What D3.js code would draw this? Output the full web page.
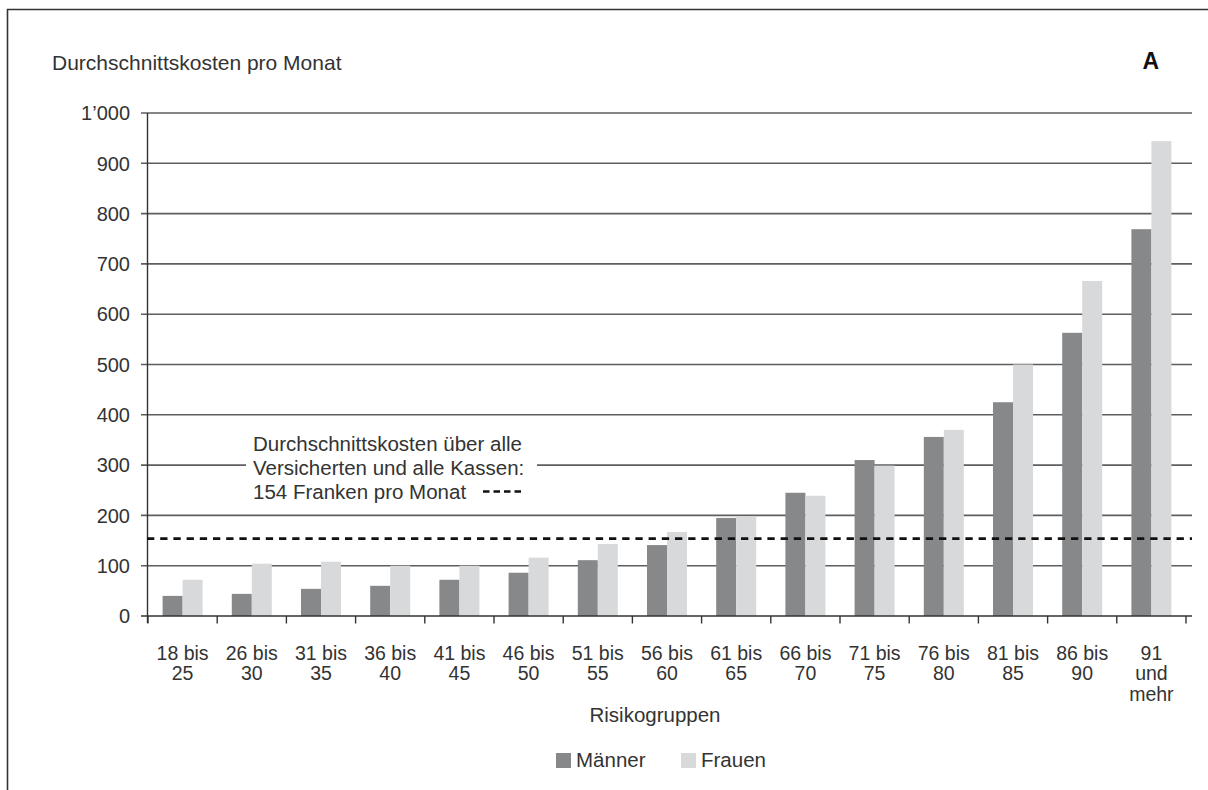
<!DOCTYPE html>
<html>
<head>
<meta charset="utf-8">
<script src="https://cdn.jsdelivr.net/npm/d3@7"></script>
<style>
  html, body { margin: 0; padding: 0; background: #fff; }
  svg { display: block; }
  text { font-family: "Liberation Sans", Arial, sans-serif; fill: #333; }
</style>
</head>
<body>
<svg id="chart" width="1208" height="790"></svg>
<script>
// Age groups (each label split into its printed lines)
const categories = [
  "18 bis|25", "26 bis|30", "31 bis|35", "36 bis|40", "41 bis|45",
  "46 bis|50", "51 bis|55", "56 bis|60", "61 bis|65", "66 bis|70",
  "71 bis|75", "76 bis|80", "81 bis|85", "86 bis|90", "91|und|mehr"
];
const series = ["Männer", "Frauen"];
// Average monthly cost in francs
const maenner = [40, 44, 54, 60, 72, 86, 111, 141, 195, 245, 310, 356, 425, 563, 769];
const frauen  = [72, 104, 108, 100, 100, 116, 143, 167, 197, 239, 299, 370, 500, 666, 944];
const yTicks = [0, 100, 200, 300, 400, 500, 600, 700, 800, 900, 1000];
const yTickLabels = ["0", "100", "200", "300", "400", "500", "600", "700", "800", "900", "1’000"];
const average = 154;
const noteLines = ["Durchschnittskosten über alle", "Versicherten und alle Kassen:", "154 Franken pro Monat"];

const colors = { "Männer": "#87888a", "Frauen": "#d8d9db" };
const svg = d3.select("#chart");

// Outer frame (top and left edges)
svg.append("path")
  .attr("d", "M7.5,790 L7.5,9.5 L1208,9.5")
  .attr("fill", "none").attr("stroke", "#333").attr("stroke-width", 1.6);

const x0 = d3.scaleBand().domain(categories).range([148, 1186]).padding(0);
const x1 = d3.scaleBand().domain(series).range([0, x0.bandwidth()]).paddingOuter(0.73);
const y = d3.scaleLinear().domain([0, 1000]).range([616, 113]);

// Title and panel letter
svg.append("text").attr("x", 52).attr("y", 69.5)
  .style("font-size", "21px").text("Durchschnittskosten pro Monat");
svg.append("text").attr("x", 1159).attr("y", 68.5).attr("text-anchor", "end")
  .style("font-size", "23px").style("font-weight", "bold").style("fill", "#111").text("A");

// Horizontal gridlines with ticks
svg.append("g").selectAll("line").data(yTicks.filter(d => d > 0)).join("line")
  .attr("x1", 141).attr("x2", 1192)
  .attr("y1", d => y(d)).attr("y2", d => y(d))
  .attr("stroke", "#5e5e5e").attr("stroke-width", 1.6);

// Y tick labels
svg.append("g").selectAll("text").data(yTicks).join("text")
  .attr("x", 130).attr("y", d => y(d)).attr("dy", "0.36em")
  .attr("text-anchor", "end").style("font-size", "20px")
  .text((d, i) => yTickLabels[i]);

// Note about the overall average, on a white box that breaks the gridline
const note = svg.append("g");
note.append("rect").attr("x", 246).attr("y", 432).attr("width", 291).attr("height", 74).attr("fill", "#fff");
note.selectAll("text").data(noteLines).join("text")
  .attr("x", 253).attr("y", (d, i) => 451 + i * 24)
  .style("font-size", "20.5px").text(d => d);
note.append("line").attr("x1", 483).attr("x2", 521).attr("y1", 491.5).attr("y2", 491.5)
  .attr("stroke", "#111").attr("stroke-width", 2.6).attr("stroke-dasharray", "6.5,4");

// Bars
const groups = svg.append("g").selectAll("g").data(categories).join("g")
  .attr("transform", d => `translate(${x0(d)},0)`);
groups.selectAll("rect")
  .data((d, i) => [{ s: "Männer", v: maenner[i] }, { s: "Frauen", v: frauen[i] }])
  .join("rect")
  .attr("x", d => x1(d.s)).attr("width", x1.bandwidth())
  .attr("y", d => y(d.v)).attr("height", d => y(0) - y(d.v))
  .attr("fill", d => colors[d.s]);

// Axes lines
svg.append("line").attr("x1", 141).attr("x2", 1192).attr("y1", y(0)).attr("y2", y(0))
  .attr("stroke", "#333").attr("stroke-width", 1.6);
svg.append("line").attr("x1", 147.5).attr("x2", 147.5).attr("y1", y(1000)).attr("y2", 623)
  .attr("stroke", "#333").attr("stroke-width", 1.4);
const bounds = categories.map(c => x0(c)).concat([x0.range()[1]]);
svg.append("g").selectAll("line").data(bounds).join("line")
  .attr("x1", d => d).attr("x2", d => d).attr("y1", y(0)).attr("y2", 623.5)
  .attr("stroke", "#333").attr("stroke-width", 1.4);

// Average line
svg.append("line").attr("x1", 147).attr("x2", 1192)
  .attr("y1", y(average)).attr("y2", y(average))
  .attr("stroke", "#111").attr("stroke-width", 2.7).attr("stroke-dasharray", "7.3,5.9");

// Category labels
const catLabels = svg.append("g").selectAll("text").data(categories).join("text")
  .attr("x", d => x0(d) + x0.bandwidth() / 2).attr("y", 659.5)
  .attr("text-anchor", "middle").style("font-size", "19.5px");
catLabels.selectAll("tspan").data(d => d.split("|")).join("tspan")
  .attr("x", function () { return d3.select(this.parentNode).attr("x"); })
  .attr("dy", (d, i) => i === 0 ? 0 : 20.7)
  .text(d => d);

// Axis title
svg.append("text").attr("x", 655).attr("y", 721.5).attr("text-anchor", "middle")
  .style("font-size", "20.5px").text("Risikogruppen");

// Legend
const legendPos = [{ s: "Männer", x: 556 }, { s: "Frauen", x: 681 }];
const lg = svg.append("g").selectAll("g").data(legendPos).join("g");
lg.append("rect").attr("x", d => d.x).attr("y", 753).attr("width", 15).attr("height", 15)
  .attr("fill", d => colors[d.s]);
lg.append("text").attr("x", d => d.x + 20).attr("y", 767)
  .style("font-size", "20.5px").text(d => d.s);
</script>
</body>
</html>
